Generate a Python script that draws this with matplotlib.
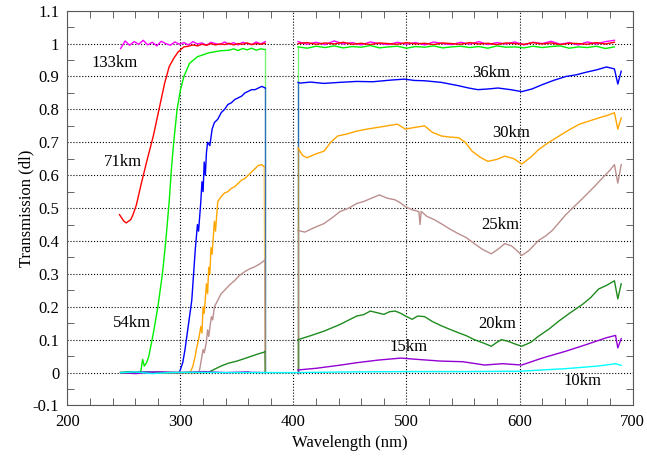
import numpy as np
import matplotlib
matplotlib.use("Agg")
import matplotlib.pyplot as plt
from matplotlib.ticker import MultipleLocator, FuncFormatter

plt.rcParams['font.family'] = ['Liberation Serif', 'DejaVu Serif']

# 133km (magenta)
mag_x1 = list(np.arange(247, 376, 4))
mag_y1 = [0.985, 1.008, 0.995, 1.006, 0.998, 1.01, 0.996, 1.004, 0.993, 1.007, 1.0,
          0.995, 1.005, 0.998, 1.003, 0.996, 1.006, 0.999, 1.002, 0.995, 1.004, 1.0,
          0.997, 1.005, 0.998, 1.003, 0.996, 1.004, 1.0, 0.997, 1.005, 0.999, 1.006]
mag_x2 = list(np.arange(404, 692, 8))
mag_y2 = [1.006, 0.998, 1.004, 0.997, 1.008, 0.999, 1.003, 0.996, 1.005, 1.0, 0.997,
          1.004, 0.998, 1.003, 0.996, 1.005, 1.0, 0.997, 1.004, 0.998, 1.006, 0.997,
          1.003, 0.999, 1.005, 0.996, 1.004, 1.0, 1.007, 0.998, 1.003, 0.996, 1.005,
          0.999, 1.006, 1.01]

# 71km (red)
red_x1 = [246, 248, 250, 252, 254, 256, 258, 261, 265, 270, 276, 281, 286, 290, 294, 298, 303] \
    + list(np.arange(307, 376, 4))
red_y1 = [0.48, 0.47, 0.46, 0.455, 0.46, 0.465, 0.48, 0.51, 0.57, 0.64, 0.72, 0.80, 0.88,
          0.93, 0.955, 0.975, 0.99,
          0.992, 0.996, 0.993, 0.998, 0.995, 1.0, 0.996, 0.999, 0.997, 1.001, 0.996, 1.0,
          0.998, 1.002, 0.997, 1.0, 0.998, 1.001]
red_x2 = list(np.arange(404, 692, 8))
red_y2 = [1.0, 1.003, 0.998, 1.002, 0.999, 1.004, 0.998, 1.001, 0.997, 1.002, 1.0, 0.998,
          1.003, 0.999, 1.001, 0.997, 1.002, 1.0, 0.998, 1.003, 0.999, 1.001, 0.997, 1.002,
          1.0, 0.998, 1.003, 0.999, 1.002, 0.997, 1.001, 1.0, 0.998, 1.003, 0.999, 1.004]

# 54km (green)
grn_x1 = [247, 255, 262, 265, 266.5, 268, 270, 272, 276, 280, 284, 287, 290, 292, 294,
          297, 300, 303, 308, 315, 325, 335] + list(np.arange(343, 376, 4)) + [375]
grn_y1 = [0, 0.003, -0.002, 0.005, 0.04, 0.02, 0.03, 0.05, 0.12, 0.2, 0.3, 0.4, 0.52, 0.62,
          0.70, 0.80, 0.86, 0.90, 0.94, 0.96, 0.972, 0.978,
          0.98, 0.984, 0.979, 0.985, 0.981, 0.986, 0.98, 0.984, 0.982, 0]
grn_x2 = [404] + list(np.arange(404, 692, 8))
grn_y2 = [0, 0.99, 0.986, 0.992, 0.988, 0.993, 0.987, 0.991, 0.989, 0.994, 0.987, 0.99,
          0.992, 0.986, 0.991, 0.989, 0.993, 0.987, 0.99, 0.992, 0.988, 0.991, 0.986,
          0.993, 0.989, 0.99, 0.987, 0.992, 0.988, 0.991, 0.993, 0.986, 0.99, 0.988,
          0.992, 0.985, 0.99]

# 36km (blue)
blu_x1 = [247, 270, 290, 299, 302, 304, 306, 308, 310, 311, 312, 313, 315, 316, 318, 319,
          320, 321, 322, 323, 324, 326, 328, 330, 333, 336, 339, 342, 345, 348, 351, 354,
          357, 360, 363, 366, 369, 372, 375, 375]
blu_y1 = [0.0, 0.002, 0.0, 0.0, 0.03, 0.07, 0.12, 0.17, 0.22, 0.27, 0.32, 0.37, 0.45, 0.43,
          0.52, 0.58, 0.55, 0.64, 0.60, 0.67, 0.70, 0.69, 0.74, 0.76, 0.77, 0.79, 0.80,
          0.815, 0.82, 0.83, 0.835, 0.84, 0.85, 0.855, 0.86, 0.86, 0.865, 0.87, 0.865, 0.0]
blu_x2 = [404, 404, 406, 415, 427, 440, 456, 470, 486, 498, 507, 516, 531, 546, 555, 563,
          572, 581, 592, 602, 611, 620, 630, 641, 650, 659, 668, 677, 684, 687, 690]
blu_y2 = [0, 0.882, 0.88, 0.883, 0.879, 0.882, 0.885, 0.884, 0.889, 0.892, 0.888, 0.887,
          0.882, 0.872, 0.865, 0.86, 0.862, 0.865, 0.86, 0.854, 0.862, 0.875, 0.888, 0.9,
          0.905, 0.913, 0.92, 0.929, 0.923, 0.877, 0.916]

# 30km (orange)
org_x1 = [247, 280, 305, 309, 311, 313, 314, 316, 318, 319, 320, 321, 323, 324, 325, 326,
          327, 328, 330, 331, 333, 336, 339, 342, 345, 348, 351, 354, 357, 360, 363, 366,
          369, 372, 374, 375]
org_y1 = [0, 0.0, 0, 0.003, 0.02, 0.05, 0.07, 0.10, 0.14, 0.12, 0.2, 0.18, 0.27, 0.24, 0.32,
          0.30, 0.38, 0.36, 0.46, 0.43, 0.52, 0.535, 0.546, 0.55, 0.56, 0.565, 0.575, 0.585,
          0.59, 0.60, 0.61, 0.62, 0.63, 0.632, 0.626, 0]
org_x2 = [404, 404, 408, 412, 420, 427, 433, 439, 447, 456, 465, 474, 483, 492, 499, 507,
          516, 523, 531, 538, 546, 552, 558, 565, 572, 580, 587, 595, 602, 610, 617, 626,
          635, 644, 653, 662, 671, 678, 684, 687, 690]
org_y2 = [0, 0.683, 0.66, 0.653, 0.665, 0.673, 0.70, 0.719, 0.725, 0.734, 0.74, 0.745, 0.75,
          0.755, 0.74, 0.745, 0.75, 0.73, 0.719, 0.716, 0.714, 0.70, 0.673, 0.655, 0.642,
          0.648, 0.658, 0.65, 0.634, 0.655, 0.678, 0.70, 0.719, 0.738, 0.755, 0.765, 0.775,
          0.782, 0.79, 0.74, 0.774]

# 25km (rosy brown)
brn_x1 = [247, 300, 316, 317, 318.5, 320, 321, 322.8, 324, 325, 327.3, 328.5, 330, 333, 336,
          339, 343, 348, 352, 357, 361, 366, 370, 374, 374.5, 375]
brn_y1 = [0, 0, 0.0, 0.01, 0.04, 0.07, 0.06, 0.09, 0.13, 0.11, 0.17, 0.16, 0.2, 0.22, 0.24,
          0.25, 0.265, 0.28, 0.295, 0.307, 0.315, 0.322, 0.33, 0.34, 0.342, 0]
brn_x2 = [404, 404, 410, 418, 427, 434, 441, 449, 456, 462, 469, 476, 483, 490, 495, 499,
          505, 511, 512, 513, 518, 525, 532, 539, 546, 553, 560, 567, 575, 581, 587, 593,
          598, 602, 608, 617, 623, 629, 636, 641, 647, 656, 665, 673, 680, 684, 687, 690]
brn_y2 = [0, 0.432, 0.427, 0.44, 0.453, 0.47, 0.489, 0.50, 0.514, 0.52, 0.53, 0.54, 0.53,
          0.525, 0.515, 0.504, 0.495, 0.489, 0.45, 0.49, 0.475, 0.464, 0.45, 0.435, 0.422,
          0.41, 0.392, 0.375, 0.361, 0.375, 0.392, 0.385, 0.37, 0.356, 0.37, 0.402, 0.415,
          0.432, 0.46, 0.48, 0.5, 0.53, 0.561, 0.59, 0.615, 0.632, 0.576, 0.632]

# 20km (dark green)
dgr_x1 = [247, 300, 324, 330, 336, 342, 350, 357, 363, 369, 374, 374.5, 375]
dgr_y1 = [0, 0, 0.0, 0.01, 0.02, 0.028, 0.035, 0.043, 0.05, 0.057, 0.062, 0.064, 0]
dgr_x2 = [404, 404, 415, 427, 441, 456, 462, 468, 474, 480, 485, 490, 495, 499, 505, 510,
          516, 523, 531, 538, 546, 553, 560, 568, 575, 580, 584, 590, 596, 602, 610, 617,
          626, 635, 645, 656, 663, 670, 677, 684, 687, 690]
dgr_y2 = [0, 0.1, 0.112, 0.126, 0.146, 0.172, 0.176, 0.187, 0.182, 0.177, 0.185, 0.187,
          0.18, 0.172, 0.162, 0.172, 0.17, 0.155, 0.142, 0.132, 0.121, 0.112, 0.1, 0.09,
          0.08, 0.092, 0.1, 0.095, 0.087, 0.08, 0.092, 0.111, 0.132, 0.157, 0.182, 0.208,
          0.228, 0.254, 0.265, 0.279, 0.224, 0.27]

# 15km (purple)
pur_x1 = [247, 260, 280, 300, 320, 340, 360, 375]
pur_y1 = [0, -0.003, 0.002, 0, 0.003, 0, 0.002, 0]
pur_x2 = [404, 404, 420, 440, 456, 475, 495, 510, 530, 550, 569, 585, 602, 620, 641, 659,
          677, 685, 687, 690]
pur_y2 = [0, 0.008, 0.013, 0.022, 0.03, 0.038, 0.044, 0.04, 0.035, 0.033, 0.023, 0.027,
          0.023, 0.044, 0.065, 0.085, 0.106, 0.113, 0.075, 0.103]

# 10km (cyan)
cya_x = [247, 260, 275, 290, 310, 340, 375, 404, 450, 500, 550, 600, 641, 670, 685, 690]
cya_y = [0, 0.002, -0.003, 0, 0.001, 0, 0, 0, 0.002, 0.003, 0.003, 0.004, 0.012, 0.02,
         0.027, 0.022]

labels = ["133km", "71km", "54km", "36km", "30km", "25km", "20km", "15km", "10km"]
label_x = [242, 249, 257, 575, 593, 583, 580, 502, 656]
label_y = [0.94, 0.641, 0.152, 0.91, 0.729, 0.448, 0.149, 0.078, -0.027]

fig = plt.figure(figsize=(6.47, 4.59), dpi=100)
ax = fig.add_axes([0.1043, 0.1166, 0.8733, 0.8601])

# magenta and red: simple gap
for x1, y1, x2, y2, c in [(mag_x1, mag_y1, mag_x2, mag_y2, '#ff00ff'),
                          (red_x1, red_y1, red_x2, red_y2, '#ff0000')]:
    ax.plot(x1, y1, color=c, lw=1.0)
    ax.plot(x2, y2, color=c, lw=1.0)

# others: drop to zero at the gap, drawn lighter like the original
for x1, y1, x2, y2, c in [(grn_x1, grn_y1, grn_x2, grn_y2, '#00ee00'),
                          (blu_x1, blu_y1, blu_x2, blu_y2, '#0000ff'),
                          (org_x1, org_y1, org_x2, org_y2, '#ffa500'),
                          (brn_x1, brn_y1, brn_x2, brn_y2, '#bc8f8f'),
                          (dgr_x1, dgr_y1, dgr_x2, dgr_y2, '#1e8b1e'),
                          (pur_x1, pur_y1, pur_x2, pur_y2, '#9400d3')]:
    ax.plot(x1[:-1], y1[:-1], color=c, lw=1.0)
    ax.plot(x1[-2:], y1[-2:], color=c, lw=1.0, alpha=0.55)
    ax.plot(x2[:2], y2[:2], color=c, lw=1.0, alpha=0.55)
    ax.plot(x2[1:], y2[1:], color=c, lw=1.0)

ax.plot(cya_x, cya_y, color='#00ffff', lw=1.0)

for t, x, y in zip(labels, label_x, label_y):
    ax.text(x, y, t, fontsize=12, ha='center', va='center')

ax.set_xlim(200, 700)
ax.set_ylim(-0.1, 1.1)
ax.xaxis.set_major_locator(MultipleLocator(100))
ax.xaxis.set_minor_locator(MultipleLocator(20))
ax.yaxis.set_major_locator(MultipleLocator(0.1))
ax.yaxis.set_minor_locator(MultipleLocator(0.05))
ax.yaxis.set_major_formatter(FuncFormatter(lambda v, p: '%g' % round(v, 2)))
ax.grid(True, which='major', linestyle=':', color='black', lw=0.8)
ax.tick_params(which='both', direction='in', top=True, right=True, labelsize=12,
               color='0.3')
ax.tick_params(which='major', length=0, pad=6)
ax.tick_params(which='minor', length=5)
for s in ax.spines.values():
    s.set_color('0.35')
ax.set_xlabel('Wavelength (nm)', fontsize=12, labelpad=3.5)
ax.set_ylabel('Transmission (dl)', fontsize=12, labelpad=-1)

fig.savefig('out.png', dpi=100)
